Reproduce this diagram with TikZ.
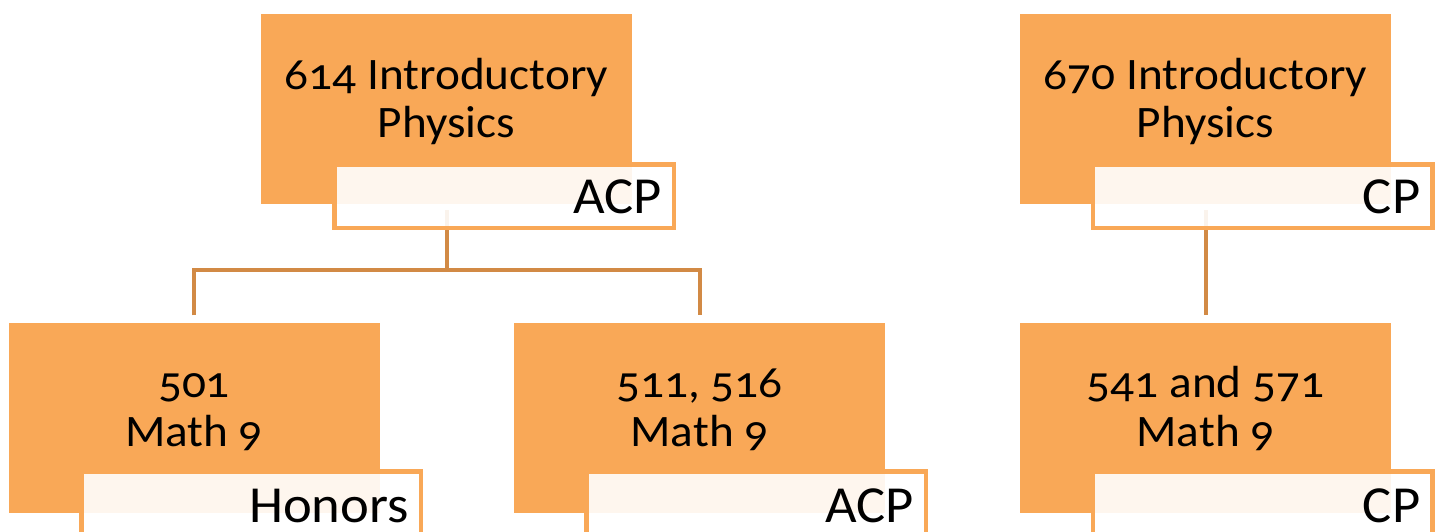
\documentclass[tikz,border=0pt]{standalone}
\usepackage{fontspec}
\setmainfont{Carlito}[Numbers=OldStyle,FakeStretch=1.05]
\usetikzlibrary{calc}
\definecolor{boxor}{HTML}{F9A857}
\definecolor{lineor}{HTML}{D28A45}
\tikzset{
  box/.style={fill=boxor, draw=none, minimum width=371pt, minimum height=190pt, inner sep=0pt},
  tag/.style={fill=white, fill opacity=0.9, draw=boxor, line width=4.5pt, minimum width=339.5pt, minimum height=63.5pt, inner sep=0pt},
  ttl/.style={font=\fontsize{45}{48}\selectfont, anchor=base, inner sep=0pt},
  tagtxt/.style={font=\fontsize{52}{55}\selectfont, anchor=base east, inner sep=0pt, text depth=0pt},
  conn/.style={draw=lineor, line width=4pt}
}
\begin{document}
\begin{tikzpicture}[x=1pt,y=-1pt]
\clip (0,0) rectangle (1440,531);
\fill[white] (0,0) rectangle (1440,531);
% boxes
\node[box] (b1) at (446.5,109) {};
\node[box] (b2) at (194,417.5) {};
\node[box] (b3) at (699.5,417.5) {};
\node[box] (b4) at (1205.5,109) {};
\node[box] (b5) at (1205.5,417.5) {};
% connectors
\coordinate (j1) at (446.5,270);
\draw[conn] ($(b1.south)+(0,6)$) -- (j1);
\draw[conn] ($(b2.north)+(0,-7)$) -- (b2.north |- j1) -- (b3.north |- j1) -- ($(b3.north)+(0,-7)$);
\draw[conn] ($(b4.south)+(0,6)$) -- ($(b5.north)+(0,-7)$);
% tags
\node[tag] (g1) at (504,196) {};
\node[tag] (g2) at (251,503) {};
\node[tag] (g3) at (756,503) {};
\node[tag] (g4) at (1262.5,196) {};
\node[tag] (g5) at (1262.5,503) {};
% titles
\node[ttl] (t1a) at (446.5,89) {614 Introductory};
\node[ttl] (t1b) at (446.5,137) {Physics};
\node[ttl] (t2a) at (194,397) {501};
\node[ttl] (t2b) at (194,446) {Math 9};
\node[ttl] (t3a) at (699.5,397) {511, 516};
\node[ttl] (t3b) at (699.5,446) {Math 9};
\node[ttl] (t4a) at (1205.5,89) {670 Introductory};
\node[ttl] (t4b) at (1205.5,137) {Physics};
\node[ttl] (t5a) at (1205.5,397) {541 and 571};
\node[ttl] (t5b) at (1205.5,446) {Math 9};
% tag texts
\node[tagtxt] (s1) at ($(g1.east)+(-14,17)$) {ACP};
\node[tagtxt] (s2) at ($(g2.east)+(-14,19)$) {Honors};
\node[tagtxt] (s3) at ($(g3.east)+(-14,19)$) {ACP};
\node[tagtxt] (s4) at ($(g4.east)+(-14,17)$) {CP};
\node[tagtxt] (s5) at ($(g5.east)+(-14,19)$) {CP};
\end{tikzpicture}
\end{document}
